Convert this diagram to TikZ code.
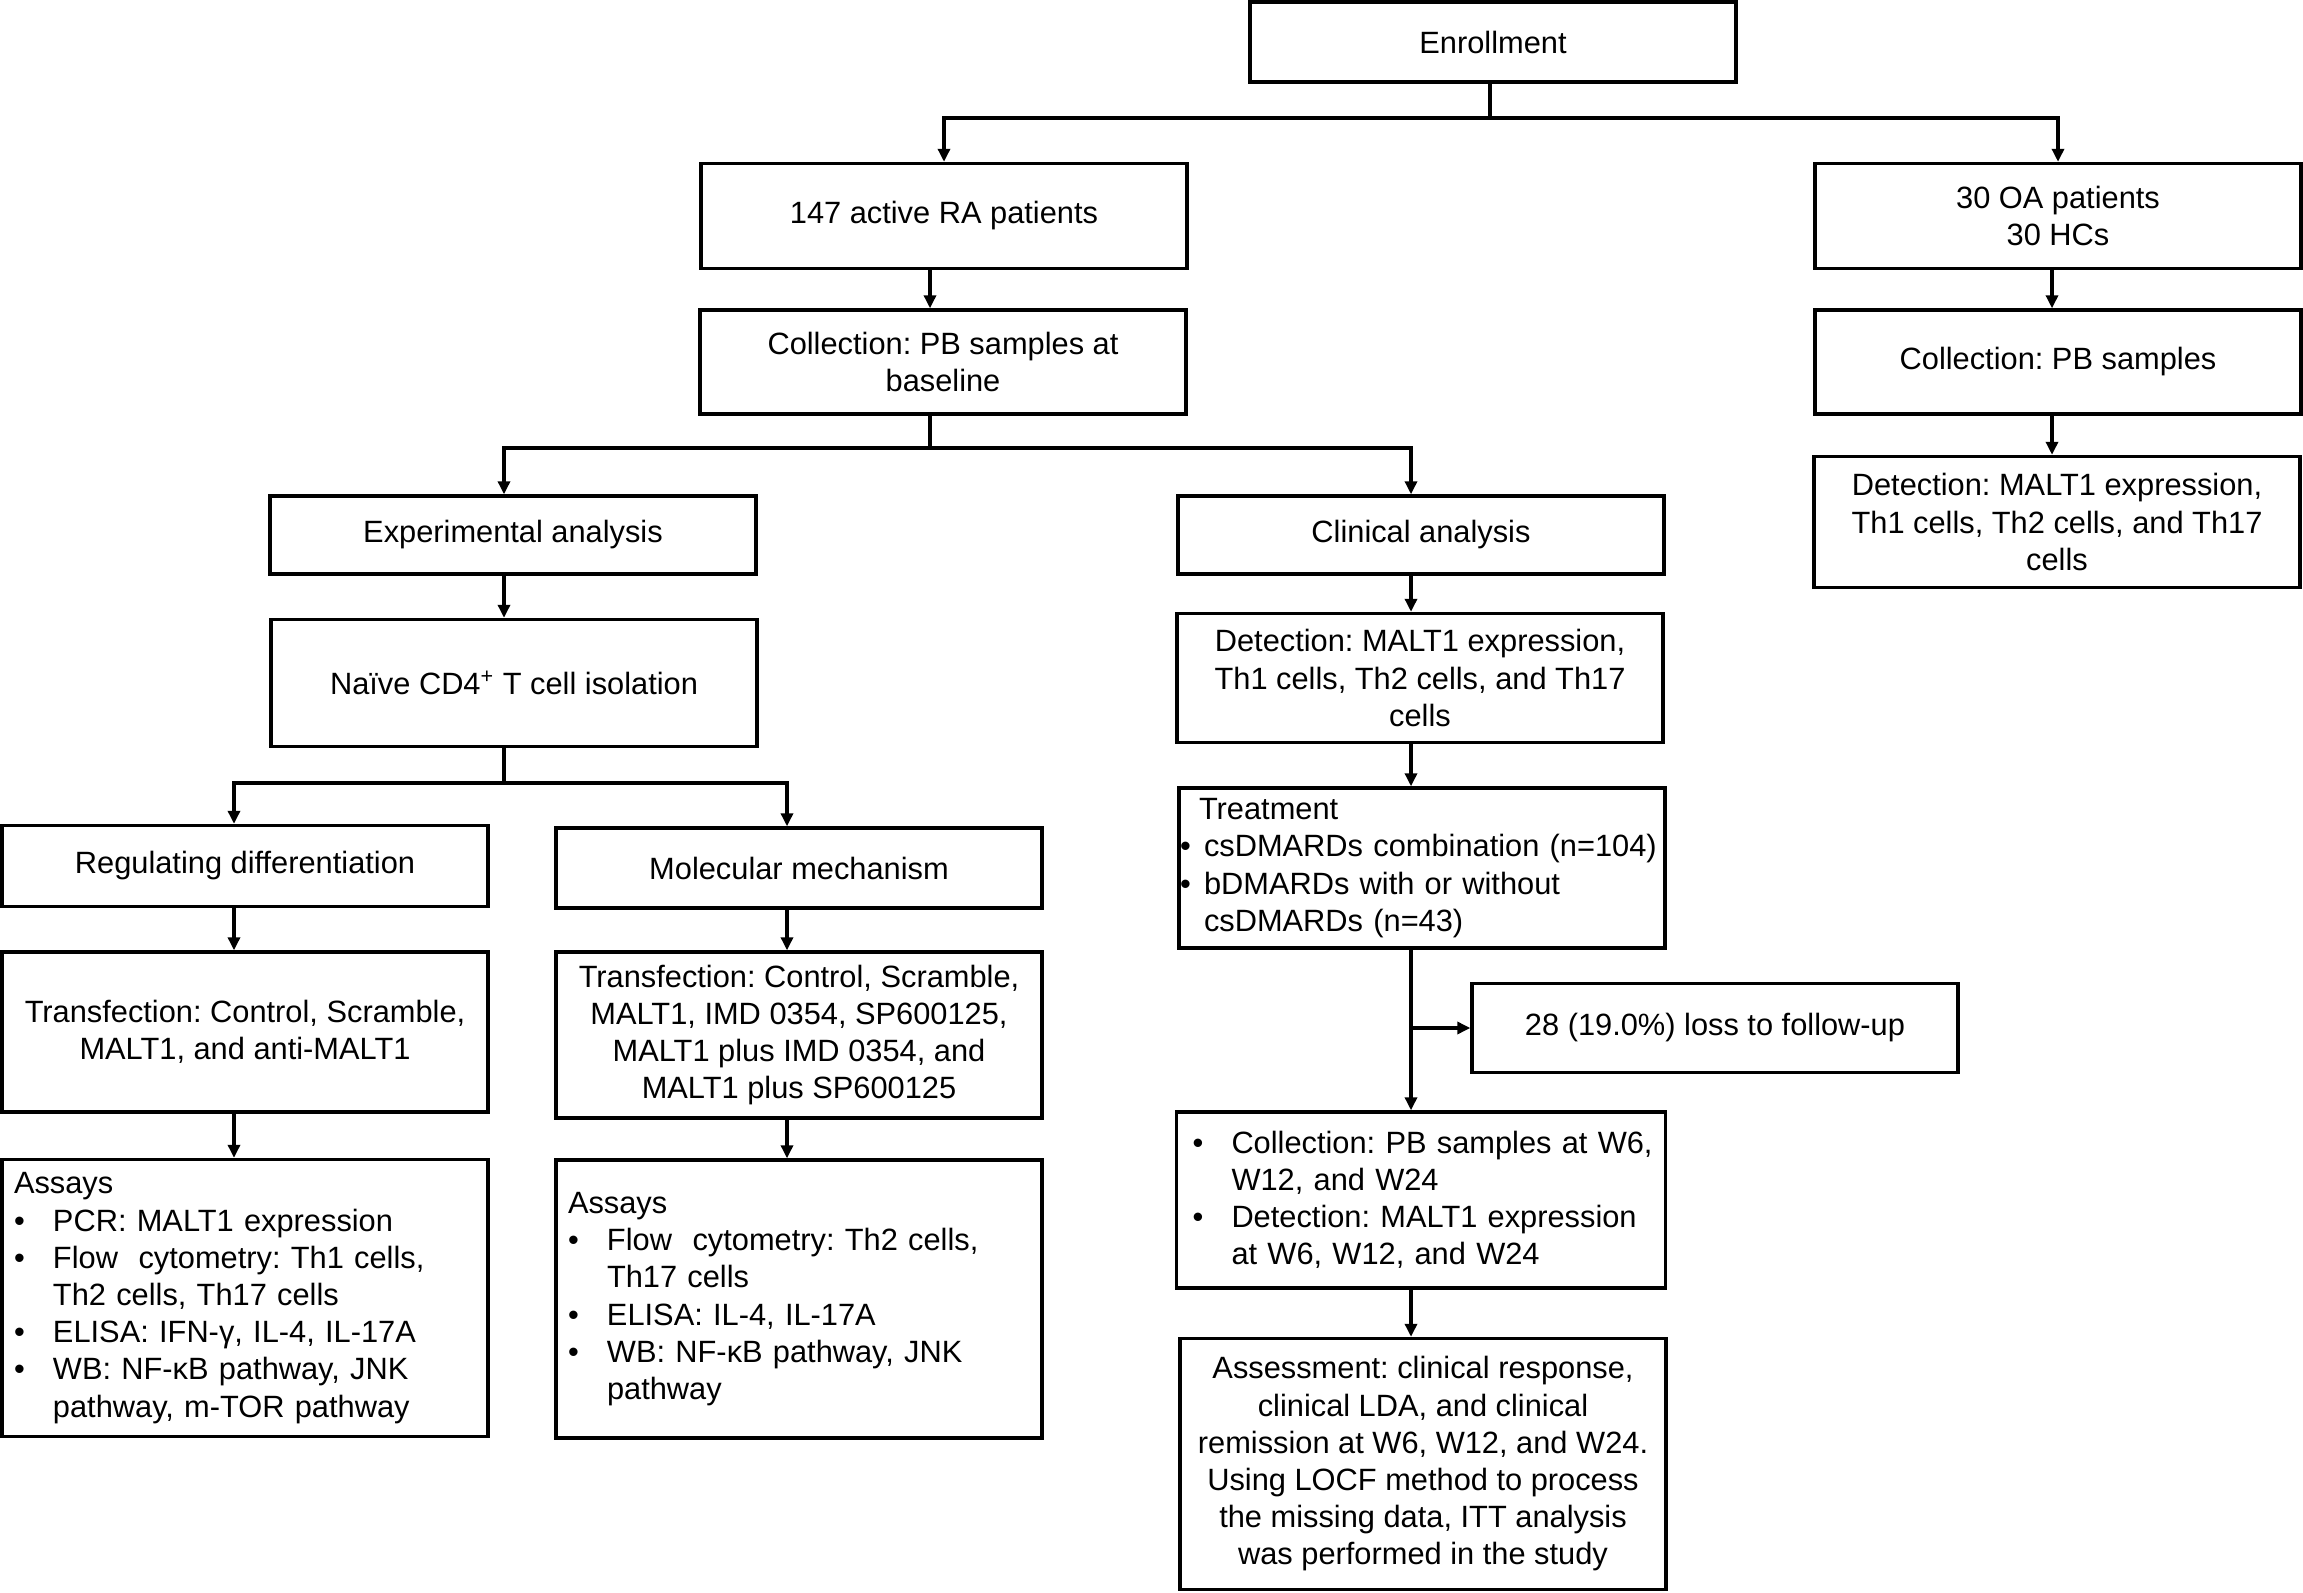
\documentclass[tikz,border=0pt]{standalone}
\usepackage{fontspec}
\setmainfont{Liberation Sans}
\usepackage{tikz}
\usetikzlibrary{arrows.meta, positioning}
\frenchspacing
\tikzstyle{box} = [rectangle, draw=black, line width=1.7pt, minimum width=243pt, align=center, inner sep=2pt, font=\fontsize{15.4}{18.6}\selectfont]
\tikzstyle{listbox} = [box, align=left, text width=231pt, inner xsep=6pt]
\tikzstyle{arrow} = [line width=1.7pt, -{Triangle[length=6.5pt,width=6pt]}]
\tikzstyle{link} = [line width=1.7pt]
\newcommand{\bitem}{\makebox[19.5pt][l]{•}}
\newcommand{\bcont}{\hspace*{19.5pt}}

\begin{document}
\begin{tikzpicture}[x=0.5pt, y=-0.5pt]
    \useasboundingbox (0,0) rectangle (2303,1593);
    % enrollment and groups
    \node[box, minimum height=40pt] (enroll) at (1493,42) {Enrollment};
    \node[box, minimum height=52.5pt] (ra) at (944,216) {147 active RA patients};
    \node[box, minimum height=52.5pt] (oa) at (2058,216) {30 OA patients\\30 HCs};
    \node[box, minimum height=52pt] (colra) at (943,362) {Collection: PB samples at\\baseline};
    \node[box, minimum height=52pt] (coloa) at (2058,362) {Collection: PB samples};
    \node[box, minimum height=65.5pt] (detoa) at (2057,522) {Detection: MALT1 expression,\\Th1 cells, Th2 cells, and Th17\\cells};
    % experimental analysis
    \node[box, minimum height=39pt] (exp) at (513,535) {Experimental analysis};
    \node[box, minimum height=63.5pt] (naive) at (514,683) {Naïve CD4\textsuperscript{+} T cell isolation};
    \node[box, minimum height=40.5pt] (reg) at (245,866) {Regulating differentiation};
    \node[box, minimum height=40pt] (mol) at (799,868) {Molecular mechanism};
    \node[box, minimum height=80pt] (trl) at (245,1032) {Transfection: Control, Scramble,\\MALT1, and anti-MALT1};
    \node[box, minimum height=83pt] (trm) at (799,1035) {Transfection: Control, Scramble,\\MALT1, IMD 0354, SP600125,\\MALT1 plus IMD 0354, and\\MALT1 plus SP600125};
    \node[listbox, minimum height=138.5pt] (asl) at (245,1298) {Assays\\
        \bitem PCR: MALT1 expression\\
        \bitem Flow~~cytometry: Th1 cells,\\
        \bcont Th2 cells, Th17 cells\\
        \bitem ELISA: IFN-γ, IL-4, IL-17A\\
        \bitem WB: NF-κB pathway, JNK\\
        \bcont pathway, m-TOR pathway};
    \node[listbox, minimum height=139pt] (asm) at (799,1299) {Assays\\
        \bitem Flow~~cytometry: Th2 cells,\\
        \bcont Th17 cells\\
        \bitem ELISA: IL-4, IL-17A\\
        \bitem WB: NF-κB pathway, JNK\\
        \bcont pathway};
    % clinical analysis
    \node[box, minimum height=39pt] (clin) at (1421,535) {Clinical analysis};
    \node[box, minimum height=64.5pt] (detc) at (1420,678) {Detection: MALT1 expression,\\Th1 cells, Th2 cells, and Th17\\cells};
    \node[listbox, inner xsep=0.5pt, text width=242pt, minimum height=80pt] (treat) at (1422,868) {\hspace*{9.5pt}Treatment\\
        \makebox[12pt][l]{•}csDMARDs combination (n=104)\\
        \makebox[12pt][l]{•}bDMARDs with or without\\
        \hspace*{12pt}csDMARDs (n=43)};
    \node[box, minimum height=44.5pt] (loss) at (1715,1028) {28 (19.0\%) loss to follow-up};
    \node[listbox, inner xsep=6pt, text width=232.5pt, minimum height=88pt] (colw) at (1421,1200) {\hspace*{2pt}\bitem Collection: PB samples at W6,\\
        \hspace*{2pt}\bcont W12, and W24\\
        \hspace*{2pt}\bitem Detection: MALT1 expression\\
        \hspace*{2pt}\bcont at W6, W12, and W24};
    \node[box, minimum height=125.5pt] (assess) at (1423,1464) {Assessment: clinical response,\\clinical LDA, and clinical\\remission at W6, W12, and W24.\\Using LOCF method to process\\the missing data, ITT analysis\\was performed in the study};

    % connectors
    \coordinate (xra) at (930,0);
    \coordinate (xoa) at (2052,0);
    \coordinate (xex) at (504,0);
    \coordinate (xcl) at (1411,0);
    \coordinate (xrg) at (234,0);
    \coordinate (xml) at (787,0);
    \coordinate (j1) at (1490,118);
    \coordinate (j2) at (930,448);
    \coordinate (j3) at (504,783);
    \draw[link] (enroll.south -| j1) -- (j1);
    \draw[arrow] (j1) -| (ra.north);
    \draw[arrow] (j1) -| (oa.north);
    \draw[arrow] (ra.south -| xra) -- (colra.north -| xra);
    \draw[arrow] (oa.south -| xoa) -- (coloa.north -| xoa);
    \draw[arrow] (coloa.south -| xoa) -- (detoa.north -| xoa);
    \draw[link] (colra.south -| j2) -- (j2);
    \draw[arrow] (j2) -| (exp.north -| xex);
    \draw[arrow] (j2) -| (clin.north -| xcl);
    \draw[arrow] (exp.south -| xex) -- (naive.north -| xex);
    \draw[link] (naive.south -| j3) -- (j3);
    \draw[arrow] (j3) -| (reg.north -| xrg);
    \draw[arrow] (j3) -| (mol.north -| xml);
    \draw[arrow] (reg.south -| xrg) -- (trl.north -| xrg);
    \draw[arrow] (trl.south -| xrg) -- (asl.north -| xrg);
    \draw[arrow] (mol.south -| xml) -- (trm.north -| xml);
    \draw[arrow] (trm.south -| xml) -- (asm.north -| xml);
    \draw[arrow] (clin.south -| xcl) -- (detc.north -| xcl);
    \draw[arrow] (detc.south -| xcl) -- (treat.north -| xcl);
    \draw[arrow] (treat.south -| xcl) -- (colw.north -| xcl);
    \draw[arrow] (loss.west -| xcl) -- (loss.west);
    \draw[arrow] (colw.south -| xcl) -- (assess.north -| xcl);
\end{tikzpicture}
\end{document}
